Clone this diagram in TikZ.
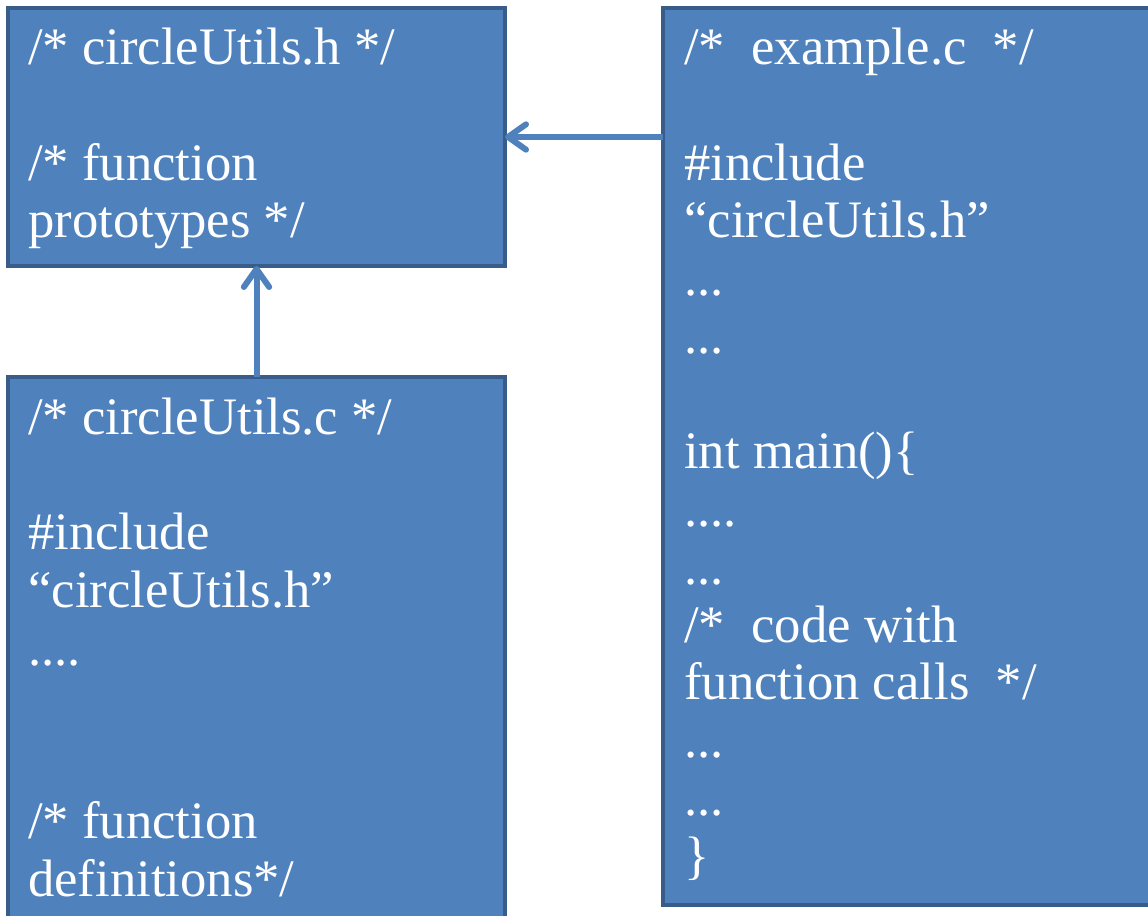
\documentclass[tikz,border=0pt]{standalone}
\usepackage{fontspec}
\setmainfont{Liberation Serif}
\usetikzlibrary{arrows.meta}
\definecolor{boxfill}{HTML}{4F81BD}
\definecolor{boxline}{HTML}{385D8A}
\tikzset{box/.style={draw=boxline, line width=2.4pt, fill=boxfill, rectangle, inner sep=0pt, outer sep=0pt, anchor=north west, minimum width=372.75pt}}
\tikzset{code/.style={white, align=left, inner sep=0pt, anchor=base west, font=\fontsize{39.5pt}{43.3pt}\selectfont}}
\tikzset{link/.style={boxfill, line width=4.5pt, -{Straight Barb[length=13.5pt, width=19pt, round]}}}

\begin{document}
\begin{tikzpicture}[x=0.75pt, y=-0.75pt]
	\useasboundingbox (0,0) rectangle (1148,916);

	% Boxes
	\node[box, minimum height=193.5pt] (hbox) at (8,8) {};
	\node[box, minimum height=414.75pt] (cbox) at (8,377) {};
	\node[box, minimum height=672.75pt] (ebox) at (663,8) {};

	% Header File (placed at the baseline of its last line)
	\node[code] (htext) at ([shift={(20,230)}]hbox.north west)
		{/* circleUtils.h */\\~\\/* function\\prototypes */};

	% Source File
	\node[code] (ctext) at ([shift={(20,519)}]cbox.north west)
		{/* circleUtils.c */\\~\\\#include\\“circleUtils.h”\\....\\~\\~\\/* function\\definitions*/};

	% Main File
	\node[code] (etext) at ([shift={(21,865)}]ebox.north west)
		{/*~ example.c~ */\\~\\\#include\\“circleUtils.h”\\...\\...\\~\\int main()\{\\....\\...\\/*~ code with\\function calls~ */\\...\\...\\\}};

	% Arrows
	\draw[link] (ebox.west |- hbox.east) -- (hbox.east);
	\draw[link] (cbox.north) -- (hbox.south);
\end{tikzpicture}
\end{document}
